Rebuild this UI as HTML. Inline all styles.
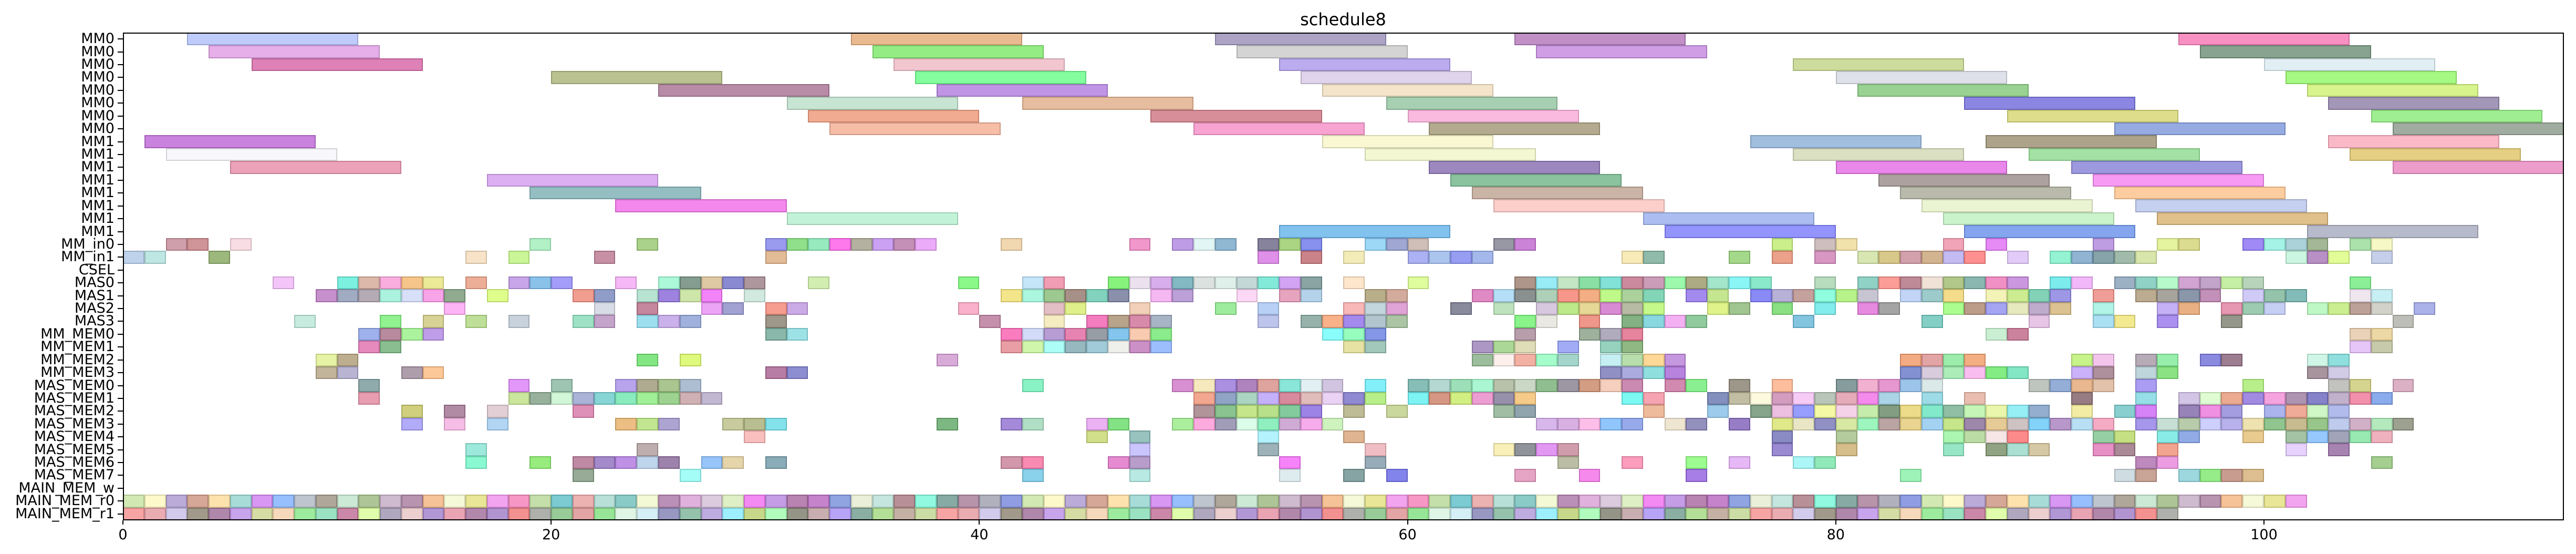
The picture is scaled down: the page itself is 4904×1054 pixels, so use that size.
<!DOCTYPE html>
<html><head><meta charset="utf-8">
<style>
html,body{margin:0;padding:0;background:#fff;}
body{width:4904px;height:1054px;position:relative;overflow:hidden;font-family:"DejaVu Sans","Liberation Sans",sans-serif;}
#ax{position:absolute;left:234px;top:62px;width:4647px;height:928px;border:2px solid #000;box-sizing:border-box;}
.b{position:absolute;box-sizing:border-box;}
.yl{position:absolute;right:4686px;font-size:27px;line-height:27px;white-space:nowrap;color:#000;}
.yt{position:absolute;left:224px;width:10px;height:2px;background:#000;}
.xt{position:absolute;top:990px;width:2px;height:8px;background:#000;}
.xl{position:absolute;top:1002px;font-size:27px;width:100px;text-align:center;color:#000;}
#title{position:absolute;left:0;width:5114px;top:18px;text-align:center;font-size:32px;}
</style></head><body>
<div id="title">schedule8</div>
<div id="bars"></div>
<div id="ax"></div>
<div id="lbl"></div>
<script>
var X0=234,U=40.76,Y0=62,R=24.42;
var bars=document.getElementById('bars');
function dark(h){var n=parseInt(h,16),r=(n>>16)&255,g=(n>>8)&255,b=n&255;r=Math.round(r*.8);g=Math.round(g*.8);b=Math.round(b*.8);return 'rgba('+r+','+g+','+b+',0.75)';}
function rgba(h,a){var n=parseInt(h,16);return 'rgba('+((n>>16)&255)+','+((n>>8)&255)+','+(n&255)+','+a+')';}
function add(row,u,len,c){var d=document.createElement('div');d.className='b';
d.style.left=(X0+u*U)+'px';d.style.width=(len*U)+'px';d.style.top=(Y0+row*R)+'px';d.style.height=R+'px';
d.style.background=rgba(c,0.82);d.style.border='2px solid '+dark(c);bars.appendChild(d);}
var L={
0:"3 b0c0fa,34 e4aa78,51 9a8fb8,65 b277bb,96 f778b6",
1:"4 e09ee4,35 7de86a,52 cbcacc,66 c589df,97 6e8f78",
2:"6 d665a6,36 efbac4,54 ac98ec,78 c2d486,100 dbecf2",
3:"20 aab478,37 68fc88,55 d8cbe6,80 d7dbe5,101 92f866",
4:"25 a87393,38 b27ee0,56 f2dfbe,81 82c87a,102 cef274",
5:"31 bcdec8,42 e2ae8a,59 94c4a0,86 726bdc,103 8f80a8",
6:"32 ee9878,48 cf7582,60 f9abd8,88 d6d672,105 8aec7a",
7:"33 f4ae94,50 f790c8,61 a29777,93 7f98dc,106 8a9a8a",
8:"1 bd66d6,56 f8f6c8,76 8eb0d8,87 9a8f70,103 f9aabb",
9:"2 f6f6fb,58 f2f6c8,78 d4d9b6,89 8fdc90,104 dec468",
10:"5 e88ea8,61 866eb0,80 e46ce6,91 8882d8,106 e888c0",
11:"17 d49ef0,62 72b68a,82 9a8c8a,92 f584f0",
12:"19 7eb0b6,63 bea392,83 a9ab99,93 fec28a",
13:"23 f26ee8,64 fbc4c0,84 e6f2c8,94 b8c6ec",
14:"31 b4f0d0,71 9ab0ee,85 c0f0c0,95 d9b272",
15:"54 66b4ec,72 7b7cfc,86 6a92ec,102 a6abbf"};
for(var r in L){L[r].split(',').forEach(function(s){var p=s.split(' ');add(+r,+p[0],8,p[1]);});}
var S={
16:"2 c48a98,3 c47c80,5 f8d6de,19 a0eeb8,24 98c870,30 8484ec,31 78d870,32 80e4b0,33 fc5ce8,34 a4a08c,35 c08cf0,36 b878a8,37 e898f8,41 eed0a0,47 ee80c0,49 b088e0,50 dcf4f4,51 78a8c8,53 6c6888,54 98cc68,55 6c78e8,58 88d0f4,59 8a94c8,60 c4b0a8,64 808090,65 c068d0,77 c0ec70,79 c4b0b0,80 eedc98,85 ee90a8,87 e070f4,92 b088dc,95 def088,96 d4d478,99 8a70f4,100 90f0e0,101 98c8d0,102 90a880,104 98dc98,105 f4f8b8",
17:"0 b0c8e8,1 b0e0dc,4 88a860,16 f6dcbc,18 c0f480,22 bc7890,30 dcac80,53 d878e4,55 c06870,57 f2e8a8,60 98a0f0,61 98b8ec,62 8088f0,63 90a8e8,70 f8e6a8,71 78ac98,75 90d070,77 e88c70,79 d080b4,81 d0e0a0,82 d0bc70,83 c88c98,84 c8a478,85 b8acf0,86 ff7878,88 dcc0f8,90 7cf0c8,91 78a4c8,92 6c9098,93 8cac98,94 d0e098,101 c0f4d8,102 a878b8,103 dcfc80,105 b8c4e4",
19:"7 f0b8f8,10 60eed8,11 d4a898,12 f89cd8,13 f4b870,14 e8e480,16 e89c80,18 bc90e4,19 70b4e4,20 9088f8,23 f4a8f4,25 98f8d0,26 6a8878,27 d8bc90,28 7070c8,29 9c8088,32 c8eca0,39 70f870,42 b8e0f8,43 ee88a4,46 6cf060,47 e8dcec,48 d09ce8,49 68aab4,50 d4dcd8,51 d8ece4,52 b8d0d0,53 68e4d0,54 c890f0,55 709090,57 fde0c0,60 d8fc88,65 9c8070,66 80e8f4,67 b8e0b8,68 70d890,69 68dcd0,70 c07088,71 c088a8,72 88f898,73 9a9868,74 90e0c0,75 70f4f4,76 70e4c0,79 a8d4b0,81 78c8b8,82 fc8880,83 b07080,84 eedcd0,85 a0bc70,86 70a8a0,87 ee78b8,88 c080d8,90 60e8e8,91 f0a8f8,93 88a0b8,94 78c8b8,95 a8f8c0,96 c890c8,97 b490c0,98 b8ec90,99 a8ccac,104 70ec80",
20:"9 b878c0,10 8c98b4,11 a498a4,12 98f0d8,13 d0d8f8,14 f890e4,15 789878,17 d8fc70,21 ee8878,22 7888bc,24 a8dcc8,25 8868d8,26 c4e098,27 f068f8,29 c8e4d8,41 f0e070,42 98f4d8,43 88bc78,44 94786c,45 68c8b0,46 707898,48 f4a8f0,49 ac8cd0,52 fcd0f4,54 e090b0,55 a4c8e4,58 aa9c70,59 c89888,63 d870b8,64 a4d8f4,65 707878,66 9cc4a8,67 f48070,68 f09c68,69 b0f870,70 98c888,71 68cca8,73 9070ec,74 b8e078,76 7070f4,77 a8a0d0,78 b88c88,79 78fcd8,80 a8f070,81 bcb8c8,83 b4ccf4,84 88c0c0,85 f0d470,87 f0f0a8,88 c0e878,89 68c8a8,90 8880e0,92 ee8880,94 ac9878,95 949088,96 708098,97 b478a8,99 c4c0f4,100 7cb498,101 68aca8,104 ece0ec,105 bcecf0",
21:"15 fca4f4,22 d0d4e0,24 b86c88,27 e890f4,28 8c8cc8,30 f48878,31 c098e0,39 f8a0c0,43 dcb0b8,44 d8ec70,47 eec4a8,51 88e888,53 a8c4f4,57 f8a8a8,58 b4ccd4,59 d890cc,62 707088,64 b0dcb0,66 d0bcd8,67 b0e470,68 e0d080,69 d070c8,70 a8ac90,71 b8f870,74 d8f070,75 8cb878,77 70d868,79 68e8e8,81 e070d8,82 909090,85 98fc78,86 ac8870,87 9090f0,88 e0e4b0,89 b098c0,90 d4b478,92 a0f0e0,95 b8a0f4,96 e4a068,98 e080a0,99 88c0a0,100 b8c4f0,102 b0f8b8,103 c0ec78,104 ac8c80,105 c8c8c0,107 98a0e4",
22:"8 b8e8d8,12 78f078,14 d0c880,16 b0d880,18 bcc8d4,21 88dcb8,22 b890c0,24 88d8ec,25 c0a0e8,26 8aa0d4,30 8a8070,40 b87898,43 f4e8b4,45 f060b0,46 a89070,47 d07098,48 94a4b8,53 b0b8e8,55 80a098,56 f8a070,57 9070e8,58 a0b8c4,59 98b890,65 70f070,66 e4e4dc,68 ec8070,70 68a068,71 70d0d8,72 f0a0f0,73 78c088,78 68b8d8,84 68c4b8,89 e0b8e0,92 98d8f0,93 f0e478,95 9878ec,98 7c8070,106 b0b0a8",
23:"11 8aa0e8,12 a87088,13 98f088,14 b088e4,30 70a898,31 88dce0,41 f860b0,42 c8d4f8,43 a888cc,44 e068a0,45 808890,46 68b8e8,47 f8c0a0,48 70e870,56 70fcfc,57 80fcb0,58 6880e0,65 a88898,68 88a088,69 a098b0,70 e06888,87 c0ecc8,88 c06888,104 e4c8a8,105 e8d090",
24:"11 e070b0,12 70b078,41 e48890,42 c4f498,43 98fcf4,44 80a8b0,45 8cc0d0,46 ecece8,47 c078b8,48 88b0fc,57 e0dc90,58 8cbcac,63 9a80b8,64 98d080,65 d8d4a8,67 8c98f4,69 80c8b0,70 78a868,104 e0b8f8,105 bcc098",
25:"9 e0f090,10 b09c78,24 68e068,26 d8f860,38 d098d0,63 88b088,64 fcece8,65 f0a090,66 90fcc0,67 90ccc0,69 b8ecf0,70 a8d898,71 fcd080,72 b880d8,83 f09868,84 dc9090,85 88e898,86 f09c68,91 bcf070,92 f0b8e8,94 a898a8,95 80ec98,97 7070d8,98 886078,102 c4f4e0,103 78d8d8",
26:"9 b4a484,10 a8a4c8,13 9c8898,14 fcbc80,30 a86090,31 7474c8,69 7878b8,70 9898d8,71 78d8d8,72 a868d8,83 6878c8,84 d0c0d4,85 98e8a8,86 f8b0ec,87 68e868,88 68e0b8,91 c0a0f8,92 9c7888,94 b0ccd4,95 70dc68,102 947c88,103 c8c0e0",
27:"11 789898,18 dc80f8,20 88b8a0,23 a890e8,24 9c9878,25 98b878,26 9cb0c8,42 70f0b8,49 d078c8,50 f4e4b0,51 9878dc,52 9c68b0,53 d89088,54 70e0d0,55 dcecf0,56 c8b8dc,58 68ecf8,60 6cb0a8,61 a4d0c8,62 88d8a8,63 98f4c8,64 a8b498,65 c0d0b8,66 78b078,67 888090,68 c88868,69 f4c4b0,70 c070a0,72 c870a0,73 70ec78,75 888070,77 fcb088,80 6c8888,81 f0a0c8,82 e080c4,83 88b8e8,84 d4e4e4,89 b0b8b0,90 7c9cd0,91 e4a878,92 dcb498,94 9888f0,99 a8ec70,103 b4b4b0,104 cccc78,106 d4a0b8",
28:"11 e488a0,18 c0e088,19 80a088,20 c8f4d0,21 98a4d0,22 6ccccc,23 70e8b0,24 8cec80,25 88c878,26 c4a0a4,27 b4a8c8,50 f09478,51 7890b8,52 98ccb4,53 b8a0f8,54 d07088,55 dcacac,56 e4c8f0,57 7870c8,58 a8ec70,60 60f0f0,61 cc8068,62 c8ec68,63 e888c8,64 807898,65 f4c070,70 60f8f0,71 f490a0,74 6878b0,75 b4b090,76 fcf8d8,77 c888b0,78 f4c0f4,79 a8b8a8,80 e098a8,81 f070e8,82 98cce0,84 88d4e0,86 e4b0a0,91 806068,94 80d8e0,96 c8b8e0,97 d8fcc8,98 e89878,99 8c70dc,100 f490d8,101 9c7ca0,102 6c68c0,103 b4a0c0,104 f07898,105 7098e8",
29:"13 c4c460,15 a07090,17 dcc4cc,21 d878a8,50 a07c84,51 70b478,52 b8e070,53 a8d870,54 68c088,55 8868e0,57 b0ac80,59 c0d088,64 8cb090,65 78909c,71 ecac88,74 88c0e8,76 6a9070,77 e8b0d8,78 8088fc,79 f0f890,80 f4c8e4,81 b8e898,82 688868,83 e8d470,84 68e4c0,85 78b090,86 b8f4a8,87 e4f498,88 80ecf4,89 7c9cc4,91 f0e890,93 70c4c4,94 cc68f4,96 8068a8,97 ec78dc,98 9088d8,100 98a4e8,101 ec9880,102 c4f4b8,103 a0ace8",
30:"13 a098f8,15 f4b0e0,17 a0ccf0,23 e8b068,24 b4e078,25 9c90c8,28 bcc088,29 a8b078,30 68dce8,38 60a868,41 9070d0,42 a0d8b8,45 e8a0f0,46 68dc68,49 98ec88,50 fc98d8,51 8c88a8,52 d4fce4,53 78ecb0,54 c498cc,55 f498e8,56 c4f0b0,66 d0a8e8,67 d0a0dc,68 fcb0e4,69 78b8fc,70 8098e8,72 ece0c8,73 7c78b0,75 8060b8,77 d8e470,78 e4e0b8,79 7878b8,80 d0e490,81 88f4b0,82 ac9090,83 e4cc78,84 90c8f0,85 b8e070,86 886c98,87 e0c080,88 c4b4b4,89 68c8f8,90 a880c0,91 a8d8f0,92 f498b8,94 9480e8,95 bcd8cc,96 a8c098,97 c4c4fc,98 a8a0e8,99 ecdca0,100 78b878,101 bcac78,102 80b870,103 b0c0e8,104 c8a0bc,105 a4e4b0,106 888c78",
31:"29 f8b0b0,45 c8d870,47 80b4b0,53 a4f0fc,57 d8a478,77 7070b8,80 a4c088,85 98f4a0,86 acd490,87 f4e0e0,88 fc7070,92 80c490,93 b8d868,95 70e8e0,96 7898e0,99 e4c078,101 90b490,102 80bcfc,103 8c90a8,104 80e4a0,105 eca0b0",
32:"16 88e4d4,24 b09c9c,47 c0b8fc,53 88a0a8,58 ecb0b8,64 f8eca8,65 787c84,66 dc80f0,67 c48898,77 8470c8,80 ccb070,85 80e0b8,87 789068,88 98d8c8,89 ccbc90,92 e078b8,93 987080,95 f09078,101 e0c8fc,103 9468a0",
33:"16 70f8c8,19 80e860,21 b07090,22 9070c0,23 b078e0,24 b0cce8,25 886898,27 80b8f8,28 e0cc98,30 7098a8,41 c88098,42 f870a0,46 e070c8,47 a888c0,54 f468f8,58 8098a8,67 acb090,70 fc88b0,73 88fc78,75 e0a8f4,78 98f4f4,79 78e4a8,94 b070b0,95 e888dc,105 90c478",
34:"21 809880,26 90fcf4,42 70c8e8,47 a8e4dc,54 d8e8ec,57 6c9090,59 6868e8,65 e090b8,68 f470e8,73 9460e0,83 88f0a8,93 c4d4dc,94 bc9080,96 88d0d8,97 80e870,98 bc8878,99 d4b078"};
for(var r in S){S[r].split(',').forEach(function(s){var p=s.split(' ');add(+r,+p[0],1,p[1]);});}
var P=["c8e4a4","fef8c0","ac98d0","cc9480","fcdc9c","94d4d0","d080f0","80b0fc","b0b8c4","9c9484","c0e4cc","9cb880","c4acc4","a87ca0","f4b480","f4f8d0","e4e080","f090ec","f480b8","b8d898","60c0c8","e8a0a0","a8d8d0","70c0bc","f0f8cc","ac78a8","d8a0d4","d4c0d8","d8ecb8","f070f0","b888e0","a868a0","b868c0","7890dc","e4ecd0","b8e0d8","a87880","78f8d8","6c9890","a87c98","a0a0b0","7888dc"];
var Q=["f49090","e49aa0","c8c0e8","8c8470","9c6c98","bc90e8","ccd490","f4d0ac","88e888","84dcb4","c06c94","d8fc98","9c94b0","e8c4c4","a080cc","e490a4","a06c98","a07cc4","f07878","9ca098","80c080","dc9090","80e080","d8f4e0","ccecf4","8080b4","7cb498","b098d8","88ecfc","bcd070","a0fcb0","7c7c6c","bc9c9c","a890f4","709c8c","a4d880","b8a090","c0d490"];
for(var i=0;i<102;i++)add(36,i,1,P[i%P.length]);
for(var i=0;i<96;i++)add(37,i,1,Q[i%Q.length]);
var names=[];for(var i=0;i<8;i++)names.push('MM0');for(var i=0;i<8;i++)names.push('MM1');
names=names.concat(['MM_in0','MM_in1','CSEL','MAS0','MAS1','MAS2','MAS3','MM_MEM0','MM_MEM1','MM_MEM2','MM_MEM3','MAS_MEM0','MAS_MEM1','MAS_MEM2','MAS_MEM3','MAS_MEM4','MAS_MEM5','MAS_MEM6','MAS_MEM7','MAIN_MEM_w','MAIN_MEM_r0','MAIN_MEM_r1']);
var lb=document.getElementById('lbl'),h='';
names.forEach(function(n,i){var cy=Y0+(i+0.5)*R;h+='<div class="yl" style="top:'+(cy-14)+'px">'+n+'</div><div class="yt" style="top:'+(cy-1)+'px"></div>';});
[0,20,40,60,80,100].forEach(function(v){var x=X0+v*U;h+='<div class="xt" style="left:'+(x-1)+'px"></div><div class="xl" style="left:'+(x-50)+'px">'+v+'</div>';});
lb.innerHTML=h;
</script>
</body></html>
